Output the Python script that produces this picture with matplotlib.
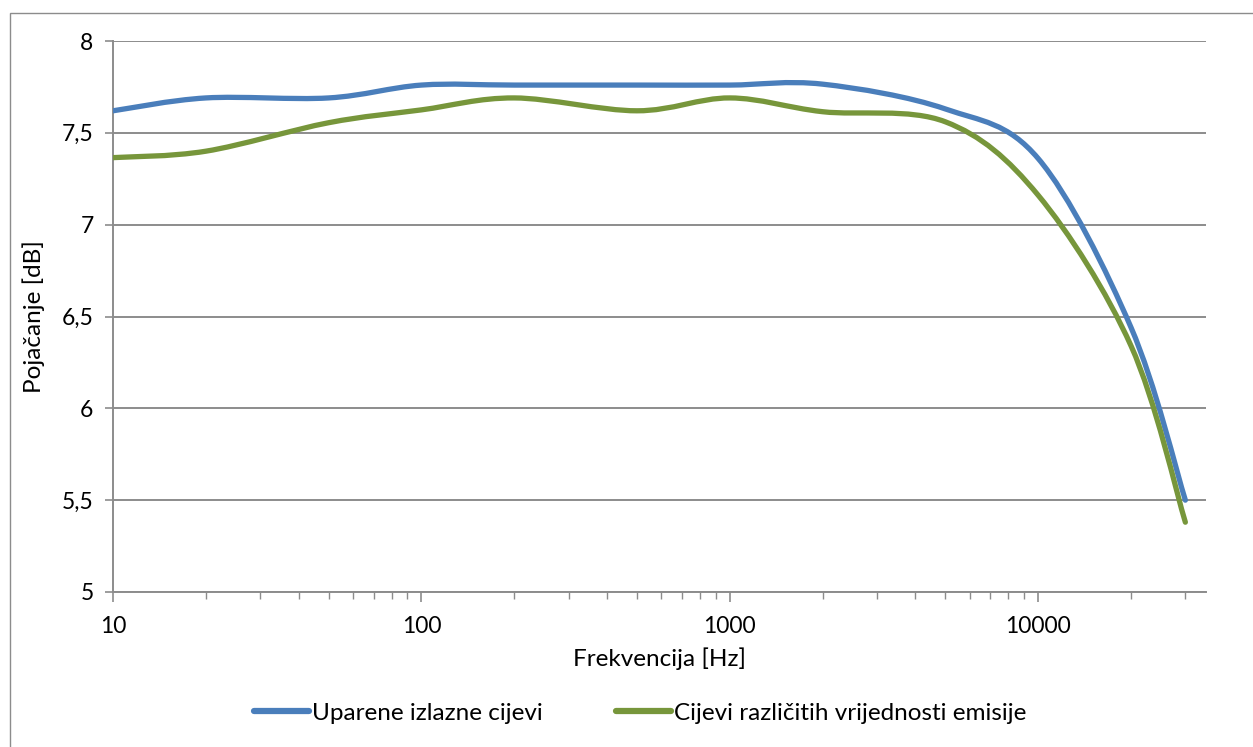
#!/usr/bin/env python3
"""Frequency response of the amplifier: matched vs unmatched output tubes."""

import numpy as np
import matplotlib

matplotlib.use("Agg")
import matplotlib.pyplot as plt
from matplotlib.path import Path
from matplotlib.patches import PathPatch, Rectangle
from matplotlib.lines import Line2D
from matplotlib.ticker import FuncFormatter, LogLocator, FixedLocator

plt.rcParams["font.family"] = ["Lato", "DejaVu Sans"]

FREQ_HZ = [10, 20, 50, 100, 200, 500, 1000, 2000, 5000, 10000, 20000, 30000]
GAIN_MATCHED = [7.62, 7.69, 7.69, 7.76, 7.76, 7.76, 7.76, 7.765, 7.63, 7.36, 6.44, 5.50]
GAIN_MIXED = [7.365, 7.40, 7.555, 7.625, 7.69, 7.62, 7.69, 7.615, 7.56, 7.16, 6.34, 5.38]
SERIES_NAMES = ["Uparene izlazne cijevi", "Cijevi različitih vrijednosti emisije"]
SERIES_COLORS = ["#4A7EBB", "#77963B"]

X_LIM = (10, 35000)
Y_LIM = (5, 8)
Y_TICKS = [5, 5.5, 6, 6.5, 7, 7.5, 8]
X_TICKS = [10, 100, 1000, 10000]

GRID_GRAY = "#8C8C8C"


def smooth_path(xs, ys):
    """Excel style smoothed line: cubic Bezier through every point, control
    points from the neighbours (Catmull-Rom, 1/6), worked out in log-x."""
    lx = np.log10(np.asarray(xs, dtype=float))
    y = np.asarray(ys, dtype=float)
    n = len(lx)
    verts = [(10 ** lx[0], y[0])]
    codes = [Path.MOVETO]
    for i in range(n - 1):
        a = max(i - 1, 0)
        b = min(i + 2, n - 1)
        c1x = lx[i] + (lx[i + 1] - lx[a]) / 6.0
        c1y = y[i] + (y[i + 1] - y[a]) / 6.0
        c2x = lx[i + 1] - (lx[b] - lx[i]) / 6.0
        c2y = y[i + 1] - (y[b] - y[i]) / 6.0
        verts += [(10 ** c1x, c1y), (10 ** c2x, c2y), (10 ** lx[i + 1], y[i + 1])]
        codes += [Path.CURVE4] * 3
    return Path(verts, codes)


def main():
    fig = plt.figure(figsize=(12.53, 7.47), dpi=100)
    ax = fig.add_axes([113 / 1253, 1 - 592 / 747, (1206 - 113) / 1253, (592 - 41) / 747])

    # outer chart border (cut at the right and bottom edges)
    fig.patches.append(Rectangle((10 / 1253, -0.05), 1.2, 1 - 13 / 747 + 0.05,
                                 transform=fig.transFigure, fill=False,
                                 edgecolor=GRID_GRAY, linewidth=1.0))

    ax.set_xscale("log")
    ax.set_xlim(*X_LIM)
    ax.set_ylim(*Y_LIM)

    for vals, color in zip([GAIN_MATCHED, GAIN_MIXED], SERIES_COLORS):
        ax.add_patch(PathPatch(smooth_path(FREQ_HZ, vals), fill=False,
                               edgecolor=color, linewidth=3.8,
                               capstyle="round", joinstyle="round", zorder=3))

    ax.set_yticks(Y_TICKS)
    ax.yaxis.set_major_formatter(FuncFormatter(
        lambda v, _: f"{v:g}".replace(".", ",")))
    ax.xaxis.set_major_locator(FixedLocator(X_TICKS))
    ax.xaxis.set_minor_locator(LogLocator(base=10, subs=np.arange(2, 10)))
    ax.xaxis.set_major_formatter(FuncFormatter(lambda v, _: f"{v:.0f}"))
    ax.xaxis.set_minor_formatter(FuncFormatter(lambda v, _: ""))

    ax.grid(axis="y", color=GRID_GRAY, linewidth=1.4)
    ax.set_axisbelow(True)
    for side in ("top", "right"):
        ax.spines[side].set_visible(False)
    for side in ("left", "bottom"):
        ax.spines[side].set_color(GRID_GRAY)
        ax.spines[side].set_linewidth(1.4)

    ax.tick_params(axis="y", which="major", length=6, width=1.2,
                   color=GRID_GRAY, labelsize=16.5, pad=8)
    ax.tick_params(axis="x", which="major", length=7, width=1.2,
                   color=GRID_GRAY, labelsize=16.5, pad=10)
    ax.tick_params(axis="x", which="minor", length=5, width=1.0,
                   color=GRID_GRAY)

    ax.set_xlabel("Frekvencija [Hz]", fontsize=17.5, labelpad=8)
    ax.set_ylabel("Pojačanje [dB]", fontsize=17.5, labelpad=12)

    handles = [Line2D([], [], color=c, linewidth=4.5, solid_capstyle="round")
               for c in SERIES_COLORS]
    fig.legend(handles, SERIES_NAMES, loc="center", ncol=2,
               bbox_to_anchor=(0.511, 1 - 713 / 747), frameon=False,
               fontsize=17.5, handlelength=2.26, handletextpad=0.12,
               columnspacing=3.0)

    fig.savefig("out.png", dpi=100)
    plt.close(fig)


if __name__ == "__main__":
    main()
